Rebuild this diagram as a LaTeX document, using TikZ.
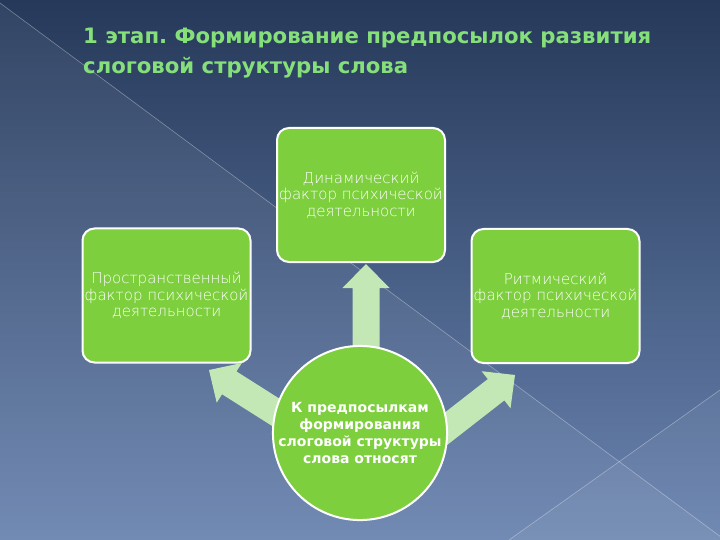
\documentclass[tikz,border=0pt]{standalone}
\usepackage{fontspec}
\setmainfont{DejaVu Sans}
\newfontfamily\thinfont{DejaVuSans-ExtraLight.ttf}
\usetikzlibrary{calc}
\pgfdeclarelayer{bg}
\pgfdeclarelayer{arr}
\pgfsetlayers{bg,arr,main}
\definecolor{bgtop}{HTML}{26395A}
\definecolor{bgbot}{HTML}{6A84B0}
\definecolor{boxgreen}{HTML}{7DCF3D}
\definecolor{arrowgreen}{HTML}{C4E8B5}
\definecolor{titlegreen}{HTML}{86E07A}
\frenchspacing
\newcommand\myblockarr[2]{%
  \coordinate (h#2) at ($(#2)!24pt!(#1)$);
  \fill[arrowfill] ($(#1)!13.5pt!90:(#2)$) -- ($(h#2)!13.5pt!90:(#2)$) -- ($(h#2)!23.5pt!90:(#2)$) -- (#2)
    -- ($(h#2)!23.5pt!-90:(#2)$) -- ($(h#2)!13.5pt!-90:(#2)$) -- ($(#1)!13.5pt!-90:(#2)$) -- cycle;}
\begin{document}
\begin{tikzpicture}[x=1pt,y=-1pt,
  factorbox/.style={draw=white, line width=2pt, fill=boxgreen, rounded corners=12pt,
    minimum width=168pt, minimum height=134pt, align=center, text=white, inner sep=0pt,
    font=\thinfont\fontsize{15}{16.5}\selectfont},
  centercirc/.style={circle, draw=white, line width=2pt, fill=boxgreen, minimum size=174pt,
    align=center, text=white, inner sep=0pt, font=\bfseries\fontsize{14}{17}\selectfont},
  arrowfill/.style={fill=arrowgreen},
  diagline/.style={draw=white, opacity=0.35, line width=0.6pt}]
\useasboundingbox (0,0) rectangle (720,540);
\begin{pgfonlayer}{bg}
  \shade[top color=bgtop, bottom color=bgbot] (0,0) rectangle (720,540);
  \fill[white, opacity=0.06] (0,3) -- (725,540) -- (0,540) -- cycle;
  \fill[white, opacity=0.05] (509,540) -- (720,390) -- (720,540) -- cycle;
  \draw[diagline] (0,3) -- (725,540);
  \draw[diagline] (509,540) -- (720,390);
\end{pgfonlayer}

\node[anchor=west, text=titlegreen, align=left, inner sep=0pt,
  font=\bfseries\fontsize{21.2}{30}\selectfont] (title) at (83,53)
  {1 этап. Формирование предпосылок развития\\слоговой структуры слова};

\node[factorbox] (dyn) at (361,195) {Динамический\\фактор психической\\деятельности};
\node[factorbox] (space) at (166.5,295.5) {Пространственный\\фактор психической\\деятельности};
\node[factorbox] (rhythm) at (555.5,296) {Ритмический\\фактор психической\\деятельности};

\coordinate (uptail) at (366,400);
\coordinate (uptip) at (366,264);
\coordinate (lefttail) at (310,434);
\coordinate (lefttip) at (209,370);
\coordinate (righttail) at (420,449);
\coordinate (righttip) at (515,375);
\begin{pgfonlayer}{arr}
  \myblockarr{uptail}{uptip}
  \myblockarr{lefttail}{lefttip}
  \myblockarr{righttail}{righttip}
\end{pgfonlayer}

\node[centercirc] (c) at (360,433) {К предпосылкам\\формирования\\слоговой структуры\\слова относят};
\end{tikzpicture}
\end{document}
